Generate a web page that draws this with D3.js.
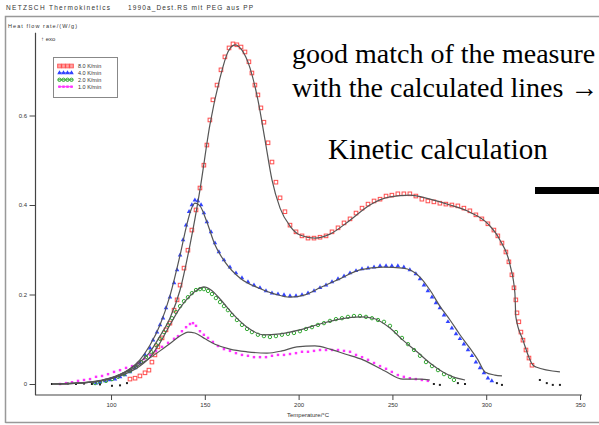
<!DOCTYPE html>
<html>
<head>
<meta charset="utf-8">
<script src="https://cdn.jsdelivr.net/npm/d3@7"></script>
<style>
  html, body { margin: 0; padding: 0; background: #fff; }
  svg { display: block; }
</style>
</head>
<body>
<svg id="chart" width="599" height="425"></svg>
<script>
// legend entries (heating rates)
const rates = ["8.0 K/min", "4.0 K/min", "2.0 K/min", "1.0 K/min"];
const xTicks = [100, 150, 200, 250, 300, 350];
const yTicks = [0, 0.2, 0.4, 0.6];
const yTickLabels = ["0", "0.2", "0.4", "0.6"];

// measured points [temperature °C, heat flow W/g]
const meas8 = [[110.1,0.011],[112.8,0.013],[115.4,0.018],[118.1,0.025],[120.2,0.031],[121.8,0.049],[123.4,0.065],[125.0,0.083],[127.2,0.103],[129.3,0.121],[131.4,0.136],[133.6,0.165],[135.2,0.188],[136.8,0.221],[138.9,0.259],[141.0,0.299],[143.1,0.344],[145.3,0.389],[147.4,0.438],[149.5,0.489],[151.1,0.534],[152.7,0.590],[154.3,0.635],[156.5,0.668],[158.6,0.702],[160.7,0.731],[162.9,0.751],[165.0,0.760],[167.1,0.758],[169.3,0.753],[171.4,0.742],[173.5,0.720],[175.1,0.695],[176.7,0.668],[178.3,0.646],[179.9,0.617],[181.5,0.585],[183.7,0.539],[185.8,0.496],[187.9,0.451],[190.1,0.416],[192.7,0.385],[195.4,0.355],[198.6,0.340],[201.8,0.331],[205.0,0.326],[208.2,0.326],[211.4,0.328],[214.6,0.331],[217.8,0.340],[221.0,0.349],[224.2,0.360],[227.4,0.369],[230.6,0.382],[233.8,0.393],[237.0,0.402],[240.2,0.409],[243.4,0.413],[246.6,0.420],[249.7,0.422],[252.9,0.425],[256.1,0.425],[259.3,0.425],[262.5,0.420],[265.7,0.413],[268.9,0.409],[272.1,0.407],[275.3,0.404],[278.5,0.402],[281.7,0.400],[284.9,0.398],[288.1,0.393],[291.3,0.387],[294.5,0.378],[297.7,0.369],[300.9,0.358],[304.1,0.344],[306.2,0.331],[308.4,0.315],[310.5,0.295],[312.1,0.273],[313.7,0.244],[314.8,0.215],[315.8,0.188],[316.4,0.159],[317.4,0.139],[318.5,0.116],[319.6,0.098],[321.2,0.076],[322.8,0.058],[324.4,0.042]];
const meas4 = [[92.0,0.002],[94.1,0.004],[96.8,0.007],[99.4,0.009],[102.1,0.011],[104.8,0.016],[107.4,0.020],[110.1,0.027],[112.8,0.036],[115.4,0.047],[118.1,0.065],[120.8,0.080],[122.4,0.098],[124.5,0.116],[126.1,0.132],[127.7,0.147],[129.3,0.170],[131.4,0.194],[133.6,0.226],[135.2,0.255],[136.8,0.288],[138.4,0.322],[140.0,0.355],[141.6,0.385],[143.1,0.400],[144.7,0.411],[146.3,0.409],[148.0,0.400],[149.5,0.382],[151.1,0.362],[153.3,0.340],[155.4,0.315],[157.5,0.295],[160.2,0.277],[163.4,0.261],[166.6,0.248],[169.8,0.237],[173.0,0.228],[176.2,0.221],[179.4,0.215],[182.6,0.208],[185.8,0.203],[189.0,0.201],[192.2,0.199],[195.4,0.197],[198.6,0.197],[201.8,0.199],[205.0,0.203],[208.2,0.208],[211.4,0.215],[214.6,0.221],[217.8,0.228],[221.0,0.235],[224.2,0.241],[227.4,0.248],[230.6,0.253],[233.8,0.257],[237.0,0.259],[240.2,0.261],[243.4,0.264],[246.6,0.264],[249.7,0.264],[252.9,0.264],[256.1,0.261],[259.3,0.255],[262.5,0.246],[264.7,0.235],[266.8,0.221],[268.9,0.208],[271.1,0.194],[273.2,0.181],[275.3,0.170],[277.5,0.154],[279.6,0.139],[281.7,0.125],[283.9,0.112],[286.0,0.101],[288.1,0.089],[290.3,0.076],[292.4,0.063],[294.5,0.049],[296.7,0.036],[298.8,0.025],[300.9,0.013],[303.0,0.007]];
const meas2 = [[91.5,0.002],[94.1,0.004],[97.3,0.007],[100.5,0.011],[103.7,0.016],[106.9,0.022],[110.1,0.029],[113.3,0.038],[116.0,0.049],[118.6,0.060],[121.3,0.072],[124.0,0.087],[126.1,0.101],[128.2,0.116],[130.4,0.132],[132.5,0.147],[134.6,0.161],[136.8,0.174],[138.9,0.185],[141.0,0.194],[143.1,0.203],[145.3,0.210],[147.4,0.212],[149.5,0.212],[151.7,0.208],[153.8,0.201],[155.9,0.192],[158.1,0.183],[160.2,0.174],[162.3,0.165],[164.5,0.154],[167.1,0.143],[169.8,0.132],[172.5,0.123],[175.1,0.116],[178.3,0.110],[181.5,0.107],[184.7,0.105],[187.9,0.107],[191.1,0.110],[194.3,0.112],[197.5,0.114],[200.7,0.118],[203.9,0.123],[207.1,0.127],[210.3,0.132],[213.5,0.136],[216.7,0.141],[219.9,0.145],[223.1,0.147],[226.3,0.150],[229.5,0.152],[232.7,0.152],[235.9,0.150],[239.1,0.147],[242.3,0.143],[245.5,0.139],[248.7,0.130],[251.9,0.116],[255.1,0.103],[258.3,0.089],[261.5,0.076],[264.7,0.063],[267.9,0.049],[271.1,0.040],[274.3,0.031],[277.5,0.022],[280.7,0.016],[282.8,0.009]];
const meas1 = [[72.8,0.000],[76.0,0.002],[79.2,0.004],[82.4,0.007],[85.6,0.009],[88.8,0.011],[92.0,0.016],[95.2,0.018],[98.4,0.022],[101.6,0.027],[104.8,0.031],[108.0,0.036],[111.2,0.040],[114.4,0.047],[117.6,0.056],[120.8,0.065],[124.0,0.074],[127.2,0.083],[130.4,0.092],[133.6,0.101],[135.7,0.107],[137.8,0.118],[140.0,0.127],[142.1,0.134],[143.7,0.136],[145.3,0.130],[147.4,0.118],[149.5,0.110],[151.7,0.103],[154.3,0.094],[157.0,0.085],[160.2,0.078],[163.4,0.074],[166.6,0.069],[169.8,0.065],[173.0,0.063],[176.2,0.060],[179.4,0.060],[182.6,0.060],[185.8,0.063],[189.0,0.065],[192.2,0.065],[195.4,0.067],[198.6,0.069],[201.8,0.072],[205.0,0.072],[208.2,0.074],[211.4,0.076],[214.6,0.076],[217.8,0.076],[221.0,0.076],[224.2,0.074],[227.4,0.072],[230.6,0.065],[233.8,0.060],[237.0,0.054],[240.2,0.047],[243.4,0.040],[246.6,0.034],[249.7,0.027],[252.9,0.020],[256.1,0.016],[259.3,0.013],[262.5,0.011],[265.7,0.009],[268.9,0.007]];

// points left out of the fit (drawn black)
const excluded = [[68.5,0.000],[72.8,0.000],[77.0,0.001],[81.3,0.000],[85.6,0.001],[89.8,0.000],[94.1,-0.001],[100.5,-0.004],[104.8,-0.003],[108.5,0.002],
  [328.6,0.009],[332.3,0.002],[335.5,-0.002],[339.3,-0.002],
  [305.7,0.002],[308.4,-0.002],
  [284.9,0.002],[288.7,0.000],
  [272.1,0.000],[275.3,-0.002]];

// calculated lines
const calc8 = [[68.5,0],[78.1,0.001],[88.8,0.004],[99.4,0.013],[107.4,0.027],[115.4,0.049],[120.8,0.072],[126.1,0.107],[131.4,0.147],[136.8,0.210],[142.1,0.311],[147.4,0.434],[152.7,0.579],[158.1,0.684],[162.3,0.742],[166.1,0.758],[169.8,0.746],[174.1,0.706],[178.3,0.635],[182.1,0.545],[185.8,0.456],[190.1,0.393],[195.4,0.353],[200.7,0.333],[208.7,0.326],[216.7,0.335],[227.4,0.366],[238.0,0.400],[248.7,0.418],[259.3,0.422],[270.0,0.413],[280.7,0.400],[291.3,0.384],[300.9,0.358],[307.3,0.322],[312.7,0.266],[315.3,0.203],[315.8,0.150],[319.6,0.098],[324.9,0.042],[326.5,0.038],[339.3,0.027]];
const calc4 = [[68.5,0],[83.5,0.002],[94.1,0.007],[102.1,0.016],[110.1,0.034],[115.4,0.054],[120.8,0.087],[126.1,0.132],[131.4,0.197],[136.8,0.288],[140.0,0.349],[142.6,0.389],[144.7,0.404],[147.4,0.398],[151.1,0.362],[155.4,0.311],[160.7,0.273],[168.7,0.237],[178.3,0.215],[187.4,0.201],[195.4,0.194],[203.4,0.199],[211.4,0.215],[222.0,0.235],[232.7,0.255],[245.0,0.261],[255.6,0.259],[264.7,0.239],[270.0,0.210],[275.3,0.174],[280.7,0.143],[286.0,0.110],[291.3,0.080],[295.6,0.054],[299.3,0.027],[304.6,0.020],[308.4,0.018]];
const calc2 = [[68.5,0],[88.8,0.004],[99.4,0.011],[107.4,0.022],[115.4,0.040],[120.8,0.060],[126.1,0.092],[131.4,0.132],[136.8,0.170],[142.1,0.197],[145.8,0.210],[149.5,0.217],[153.3,0.210],[158.1,0.190],[165.0,0.156],[172.5,0.127],[181.0,0.110],[190.1,0.112],[200.7,0.121],[211.4,0.134],[222.0,0.145],[232.7,0.150],[239.6,0.147],[248.7,0.125],[255.6,0.098],[263.1,0.072],[270.0,0.047],[276.9,0.027],[282.3,0.016],[288.7,0.009]];
const calc1 = [[68.5,0],[83.5,0.002],[94.1,0.007],[102.1,0.016],[110.1,0.031],[118.1,0.051],[126.1,0.074],[132.5,0.094],[137.8,0.110],[141.0,0.116],[144.7,0.114],[150.1,0.101],[155.4,0.089],[163.4,0.078],[172.5,0.072],[183.1,0.069],[191.1,0.074],[199.1,0.083],[208.7,0.085],[216.7,0.078],[224.7,0.067],[234.3,0.054],[246.0,0.029],[255.6,0.011],[264.7,0.011],[270.0,0.009]];

const svg = d3.select("#chart");
const font = "'Liberation Sans', Arial, sans-serif";

const x = d3.scaleLinear().domain([60, 350]).range([36, 580]);
const y = d3.scaleLinear().domain([0, 0.6]).range([384, 115.5]);

// outer frame
svg.append("path")
  .attr("d", "M5.5,423 V16.5 H599 M5.5,422.5 H599")
  .attr("fill", "none").attr("stroke", "#999").attr("stroke-width", 1.5);

// header
svg.append("text").attr("x", 6).attr("y", 10)
  .attr("font-family", font).attr("font-size", 6.5).attr("fill", "#333")
  .attr("textLength", 104).attr("lengthAdjust", "spacing")
  .text("NETZSCH Thermokinetics");
svg.append("text").attr("x", 128).attr("y", 10)
  .attr("font-family", font).attr("font-size", 6.5).attr("fill", "#333")
  .attr("textLength", 125).attr("lengthAdjust", "spacing")
  .text("1990a_Dest.RS mit PEG aus PP");

svg.append("text").attr("x", 8).attr("y", 28)
  .attr("font-family", font).attr("font-size", 5.5).attr("fill", "#333")
  .attr("textLength", 69).attr("lengthAdjust", "spacing")
  .text("Heat flow rate/(W/g)");
svg.append("text").attr("x", 41).attr("y", 41)
  .attr("font-family", font).attr("font-size", 6).attr("fill", "#333")
  .text("\u2191 exo");

// x axis
const xg = svg.append("g").attr("transform", "translate(0,395)");
xg.call(d3.axisBottom(x).tickValues(d3.range(70, 351, 10)).tickSize(3).tickFormat(""));
xg.call(d3.axisBottom(x).tickValues(xTicks).tickSize(5).tickPadding(3));
xg.selectAll(".domain").remove();
xg.selectAll("line").attr("stroke", "#444");
xg.selectAll("text").attr("font-family", font).attr("font-size", 6).attr("fill", "#333");
svg.append("line").attr("x1", x(59.5)).attr("x2", x(351)).attr("y1", 395).attr("y2", 395)
  .attr("stroke", "#444").attr("stroke-width", 1.2);
svg.append("text").attr("x", 308).attr("y", 417).attr("text-anchor", "middle")
  .attr("font-family", font).attr("font-size", 6).attr("fill", "#333")
  .text("Temperature/\u00B0C");

// y axis
const yg = svg.append("g").attr("transform", "translate(35.5,0)");
const yMinor = d3.range(1, 40).map(i => i * 0.02).filter(v => !yTicks.some(t => Math.abs(t - v) < 1e-6));
yg.call(d3.axisLeft(y).tickValues(yMinor).tickSize(3).tickFormat(""));
yg.call(d3.axisLeft(y).tickValues(yTicks).tickSize(6).tickPadding(2.5).tickFormat((d, i) => yTickLabels[i]));
yg.selectAll(".domain").remove();
yg.selectAll("line").attr("stroke", "#444");
yg.selectAll("text").attr("font-family", font).attr("font-size", 6).attr("fill", "#333");
svg.append("line").attr("x1", 35.5).attr("x2", 35.5).attr("y1", y(0.785)).attr("y2", 395)
  .attr("stroke", "#444").attr("stroke-width", 1.2);

// series styles
const series = [
  { meas: meas8, calc: calc8, color: "#ff4d4d", shape: "square" },
  { meas: meas4, calc: calc4, color: "#3344ff", shape: "triangle" },
  { meas: meas2, calc: calc2, color: "#33aa33", shape: "circle" },
  { meas: meas1, calc: calc1, color: "#ff33ff", shape: "dot" }
];

function marker(g, shape, color, cx, cy) {
  if (shape === "square") {
    g.append("rect").attr("x", cx - 1.8).attr("y", cy - 1.8).attr("width", 3.6).attr("height", 3.6)
      .attr("fill", "none").attr("stroke", color).attr("stroke-width", 1);
  } else if (shape === "triangle") {
    g.append("path").attr("d", d3.symbol(d3.symbolTriangle, 9)())
      .attr("transform", `translate(${cx},${cy})`).attr("fill", color);
  } else if (shape === "circle") {
    g.append("circle").attr("cx", cx).attr("cy", cy).attr("r", 1.7)
      .attr("fill", "none").attr("stroke", color).attr("stroke-width", 1);
  } else {
    g.append("path").attr("d", d3.symbol(d3.symbolSquare, 6)())
      .attr("transform", `translate(${cx},${cy})`).attr("fill", color);
  }
}

const markG = svg.append("g");
series.forEach(s => {
  s.meas.forEach(p => marker(markG, s.shape, s.color, x(p[0]), y(p[1])));
});
markG.selectAll(null).data(excluded).enter().append("rect")
  .attr("x", d => x(d[0]) - 1).attr("y", d => y(d[1]) - 1)
  .attr("width", 2).attr("height", 2).attr("fill", "#222");

const line = d3.line().x(d => x(d[0])).y(d => y(d[1])).curve(d3.curveMonotoneX);
series.forEach(s => {
  svg.append("path").datum(s.calc).attr("d", line)
    .attr("fill", "none").attr("stroke", "#555").attr("stroke-width", 1.2);
});

// legend
const lg = svg.append("g");
lg.append("rect").attr("x", 53.5).attr("y", 57.5).attr("width", 64).attr("height", 40)
  .attr("fill", "#fff").attr("stroke", "#888").attr("stroke-width", 1);
series.forEach((s, i) => {
  const ly = 66 + i * 6.9;
  lg.append("line").attr("x1", 58).attr("x2", 73).attr("y1", ly).attr("y2", ly)
    .attr("stroke", s.color).attr("stroke-width", 1);
  [59.5, 63.5, 67.5, 71.5].forEach(mx => marker(lg, s.shape, s.color, mx, ly));
  lg.append("text").attr("x", 78).attr("y", ly + 2)
    .attr("font-family", font).attr("font-size", 5.5).attr("fill", "#333")
    .text(rates[i]);
});

// slide annotations
const serif = "'Liberation Serif', 'Times New Roman', Times, serif";
[["good match of the measure", 292, 63, 28], ["with the calculated lines \u2192", 292, 97, 28], ["Kinetic calculation", 328, 159, 29]]
  .forEach(t => {
    svg.append("text").attr("x", t[1]).attr("y", t[2])
      .attr("font-family", serif).attr("font-size", t[3]).attr("fill", "#000").text(t[0]);
  });
svg.append("rect").attr("x", 535).attr("y", 187).attr("width", 70).attr("height", 7).attr("fill", "#000");
</script>
</body>
</html>
